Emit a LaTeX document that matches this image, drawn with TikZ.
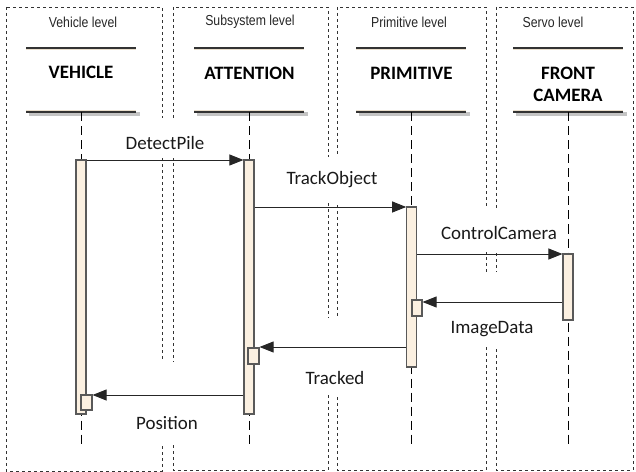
\documentclass[tikz,border=0pt]{standalone}
\usepackage{fontspec}
\setmainfont{Carlito}
\newfontfamily\lanefont[FakeStretch=0.85]{Liberation Sans}
\usetikzlibrary{arrows.meta}

\definecolor{barfill}{HTML}{FBF0E1}
\definecolor{barline}{HTML}{595959}
\definecolor{shadowcol}{HTML}{C4C4C4}
\definecolor{lanecol}{HTML}{333333}
\definecolor{headbeige}{HTML}{EADFCD}

\begin{document}
\begin{tikzpicture}[x=1bp,y=-1bp,
  lane/.style={draw=lanecol, line width=0.9bp, dash pattern=on 3bp off 3bp},
  gap/.style={fill=white, draw=none},
  lifeline/.style={draw=black, line width=1bp, dash pattern=on 9bp off 5bp},
  actbar/.style={draw=barline, fill=barfill, line width=1.1bp, minimum width=10bp, inner sep=0pt},
  msg/.style={draw=black!85, line width=0.9bp, -{Triangle[length=14bp,width=11bp]}},
  msglabel/.style={font=\fontsize{19}{20}\selectfont, text=black!90, inner sep=0pt},
  headlabel/.style={font=\fontsize{19}{22}\selectfont\bfseries, align=center, inner sep=0pt},
  lanetitle/.style={font=\lanefont\fontsize{14.5}{16}\selectfont, text=black!85, inner sep=0pt},
  headdark/.style={draw=black!80, line width=1.1bp},
  headlight/.style={draw=headbeige, line width=1.2bp}]

\useasboundingbox (0,0) rectangle (636,472);

% swimlanes
\draw[lane] (6,7) rectangle (162,471);
\draw[lane] (173,7) rectangle (328,470);
\draw[lane] (337,7) rectangle (486,470);
\draw[lane] (496,7) rectangle (633,470);

% breaks in the lane borders behind the message labels
\fill[gap] (156,118) rectangle (179,158);
\fill[gap] (156,362) rectangle (179,443);
\fill[gap] (322,157) rectangle (343,203);
\fill[gap] (322,318) rectangle (343,395);
\fill[gap] (480,208) rectangle (502,252);
\fill[gap] (480,272) rectangle (502,347);

% lane titles
\node[lanetitle] (t1) at (83,22) {Vehicle level};
\node[lanetitle] (t2) at (250,22) {Subsystem level};
\node[lanetitle] (t3) at (409,22) {Primitive level};
\node[lanetitle] (t4) at (553,22) {Servo level};

% object heads: top rule, bottom rule with shadow
\foreach \l/\r in {26/136, 194/304, 356/466, 513/623} {
  \fill[shadowcol] (\l+3,112.5) rectangle (\r+4,116.5);
  \draw[headlight] (\l,49.2) -- (\r,49.2);
  \draw[headdark] (\l,48) -- (\r,48);
  \draw[headlight] (\l,110.8) -- (\r,110.8);
  \draw[headdark] (\l,112) -- (\r,112);
}
\node[headlabel] (veh) at (81,72) {VEHICLE};
\node[headlabel] (att) at (249.5,73) {ATTENTION};
\node[headlabel] (pri) at (411.5,73) {PRIMITIVE};
\node[headlabel] (cam) at (568,84) {FRONT\\CAMERA};

% lifelines
\coordinate (vtop) at (81,112.5);   \coordinate (vend) at (81,448);
\coordinate (atop) at (249.5,112.5); \coordinate (aend) at (249.5,448);
\coordinate (ptop) at (411.5,112.5); \coordinate (pend) at (411.5,448);
\coordinate (ctop) at (568.5,112.5); \coordinate (cend) at (568.5,448);
\draw[lifeline] (vtop) -- (vend);
\draw[lifeline] (atop) -- (aend);
\draw[lifeline] (ptop) -- (pend);
\draw[lifeline] (ctop) -- (cend);

% activation bars
\node[actbar, minimum height=254bp] (vbar) at (81,287) {};
\node[actbar, minimum height=254bp] (abar) at (249,287) {};
\node[actbar, minimum height=160bp, minimum width=9.5bp] (pbar) at (411.5,287) {};
\node[actbar, minimum height=66bp] (cbar) at (568,287) {};

% nested activations on return
\node[actbar, minimum height=16bp, minimum width=10bp] (psmall) at (417,308) {};
\node[actbar, minimum height=16bp, minimum width=11bp] (asmall) at (253.5,356) {};
\node[actbar, minimum height=15bp, minimum width=11bp] (vsmall) at (86.5,402.5) {};

% message levels
\coordinate (m1) at (0,160);
\coordinate (m2) at (0,207);
\coordinate (m3) at (0,254);
\coordinate (m4) at (0,302);
\coordinate (m5) at (0,347);
\coordinate (m6) at (0,395);

% messages
\draw[msg] (vbar.east |- m1) -- (abar.west |- m1);
\draw[msg] (abar.east |- m2) -- (pbar.west |- m2);
\draw[msg] (pbar.east |- m3) -- (cbar.west |- m3);
\draw[msg] (cbar.west |- m4) -- (psmall.east |- m4);
\draw[msg] (pbar.west |- m5) -- (asmall.east |- m5);
\draw[msg] (abar.west |- m6) -- (vsmall.east |- m6);

% message labels
\node[msglabel] (l1) at (165,143) {DetectPile};
\node[msglabel] (l2) at (332,180) {TrackObject};
\node[msglabel] (l3) at (499,233) {ControlCamera};
\node[msglabel] (l4) at (492,329) {ImageData};
\node[msglabel] (l5) at (335,378) {Tracked};
\node[msglabel] (l6) at (167,423) {Position};

\end{tikzpicture}
\end{document}
